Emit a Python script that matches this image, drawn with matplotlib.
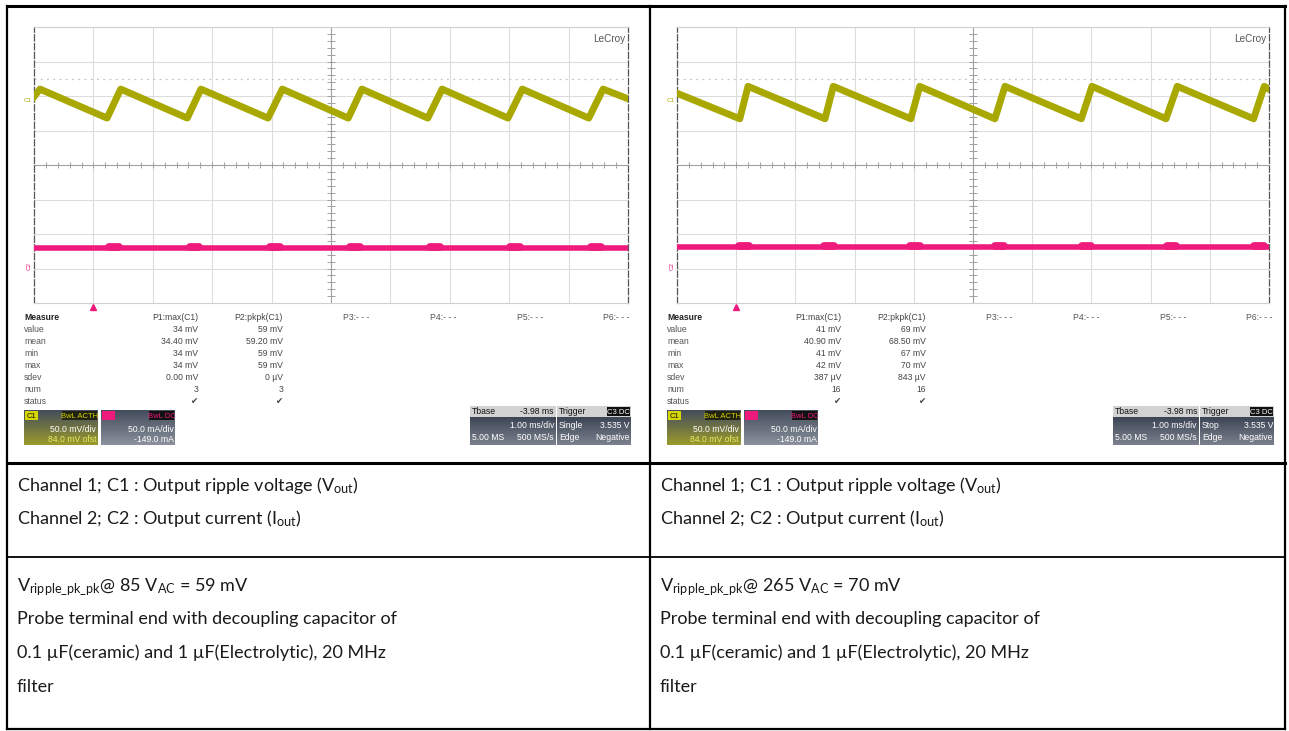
import numpy as np
import matplotlib
import matplotlib.pyplot as plt
import matplotlib.colors as mcolors
import matplotlib.transforms as mtransforms
from matplotlib import font_manager

W, H = 1289, 731

# ---- scope 1 (85 VAC) : C1 ripple vertices, time in ms (1 ms/div), screen mV (50 mV/div)
c1_time_85 = [0.00, 0.10, 1.23, 1.46, 2.58, 2.81, 3.94, 4.18, 5.29, 5.52,
              6.63, 6.87, 7.98, 8.22, 9.34, 9.58, 10.0]
c1_mv_85 = [99, 110, 68, 110, 68, 110, 68, 110, 68, 110, 68, 110, 68, 110, 68, 110, 96]
c2_level_85 = -120
c2_bumps_85 = [1.35, 2.70, 4.06, 5.40, 6.75, 8.10, 9.46]

# ---- scope 2 (265 VAC)
c1_time_265 = [0.00, 1.06, 1.20, 2.50, 2.64, 3.95, 4.10, 5.37, 5.54, 6.83,
               7.01, 8.26, 8.45, 9.74, 9.92, 10.0]
c1_mv_265 = [104, 67, 114, 67, 114, 67, 114, 67, 114, 67, 114, 67, 114, 67, 114, 110]
c2_level_265 = -119
c2_bumps_265 = [1.13, 2.57, 4.02, 5.45, 6.92, 8.35, 9.83]

trigger_level = 125
c1_ground = 94
c2_ground = -146

meas_rows = ['value', 'mean', 'min', 'max', 'sdev', 'num', 'status']
p1_85 = ['34 mV', '34.40 mV', '34 mV', '34 mV', '0.00 mV', '3', '\u2714']
p2_85 = ['59 mV', '59.20 mV', '59 mV', '59 mV', '0 \u00b5V', '3', '\u2714']
p1_265 = ['41 mV', '40.90 mV', '41 mV', '42 mV', '387 \u00b5V', '16', '\u2714']
p2_265 = ['69 mV', '68.50 mV', '67 mV', '70 mV', '843 \u00b5V', '16', '\u2714']
trig_mode_85 = 'Single'
trig_mode_265 = 'Stop'

channel_text = ['Channel 1; C1 : Output ripple voltage (V$_{\\mathrm{out}}$)',
                'Channel 2; C2 : Output current (I$_{\\mathrm{out}}$)']
ripple_85 = 'V$_{\\mathrm{ripple\\_pk\\_pk}}$@ 85 V$_{\\mathrm{AC}}$ = 59 mV'
ripple_265 = 'V$_{\\mathrm{ripple\\_pk\\_pk}}$@ 265 V$_{\\mathrm{AC}}$ = 70 mV'
probe_text = ['Probe terminal end with decoupling capacitor of',
              '0.1 \u00b5F(ceramic) and 1 \u00b5F(Electrolytic), 20 MHz',
              'filter']

names = {f.name for f in font_manager.fontManager.ttflist}
body_font = 'Liberation Sans Narrow' if 'Liberation Sans Narrow' in names else 'Lato'
ui_font = 'Liberation Sans'
plt.rcParams['mathtext.fontset'] = 'custom'
plt.rcParams['mathtext.rm'] = body_font
plt.rcParams['mathtext.it'] = body_font + ':italic'

YEL = '#a9a800'
PINK = '#ee1a7c'

fig = plt.figure(figsize=(W / 100, H / 100), dpi=100)
bg = fig.add_axes([0, 0, 1, 1])
bg.set_autoscale_on(False)
bg.set_xlim(0, W)
bg.set_ylim(H, 0)
bg.axis('off')

# table frame
bg.plot([7, 1285], [6, 6], color='k', lw=2.2)
bg.plot([7, 1285], [463, 463], color='k', lw=2.2)
bg.plot([7, 1285], [557, 557], color='k', lw=1.3)
bg.plot([7, 1285], [729, 729], color='k', lw=1.6)
for x in [7, 650, 1285]:
    bg.plot([x, x], [6, 729], color='k', lw=1.6)


def grad_box(x, y, w, h, c_top, c_bot, z=3):
    g = np.linspace(0, 1, 32)[:, None, None]
    top = np.array(mcolors.to_rgb(c_top))
    bot = np.array(mcolors.to_rgb(c_bot))
    img = top + (bot - top) * g
    bg.imshow(img, extent=(x, x + w, y + h, y), aspect='auto', zorder=z,
              interpolation='bilinear')


def label_box(x, y, w, h, fc, txt, tc):
    bg.add_patch(plt.Rectangle((x, y), w, h, facecolor=fc, edgecolor='none', zorder=4))
    bg.text(x + w / 2, y + h / 2 + 0.5, txt, color=tc, fontsize=5.5, family=ui_font,
            ha='center', va='center', zorder=5)


def draw_scope(x0, width, c1_t, c1_v, c2_lvl, c2_bumps, p1, p2, trig_mode):
    ax = fig.add_axes([x0 / W, 1 - 303 / H, width / W, 276 / H])
    ax.set_xlim(0, 10)
    ax.set_ylim(-200, 200)
    ax.set_xticks([])
    ax.set_yticks([])
    for t in range(1, 10):
        if t != 5:
            ax.axvline(t, color='#dcdcdc', lw=0.8, zorder=1)
    for v in range(-150, 200, 50):
        if v != 0:
            ax.axhline(v, color='#dcdcdc', lw=0.8, zorder=1)
    ax.axvline(5, color='#a0a0a0', lw=0.8, zorder=1)
    ax.axhline(0, color='#a0a0a0', lw=0.8, zorder=1)
    ax.vlines(np.arange(0.2, 10, 0.2), -4, 4, color='#a0a0a0', lw=0.7, zorder=1)
    ax.hlines(np.arange(-190, 200, 10), 4.94, 5.06, color='#a0a0a0', lw=0.7, zorder=1)
    ax.axhline(trigger_level, color='#c4c4c4', lw=0.9, ls=(0, (1.5, 3.5)), zorder=1)
    for s in ['top', 'bottom']:
        ax.spines[s].set_color('#d0d0d0')
    for s in ['left', 'right']:
        ax.spines[s].set_color('#555555')
        ax.spines[s].set_linestyle((0, (5, 2)))
        ax.spines[s].set_linewidth(0.9)

    ax.plot(c1_t, c1_v, color=YEL, lw=5.0, solid_joinstyle='round', zorder=4)
    ax.plot([0, 10], [c2_lvl, c2_lvl], color=PINK, lw=4.0, zorder=4)
    for b in c2_bumps:
        ax.plot([b - 0.08, b + 0.08], [c2_lvl + 1, c2_lvl + 1], color=PINK, lw=5.6,
                solid_capstyle='round', zorder=4)

    ty = mtransforms.blended_transform_factory(ax.transAxes, ax.transData)
    tx = mtransforms.blended_transform_factory(ax.transData, ax.transAxes)
    ax.text(-0.004, c1_ground, 'C1', transform=ty, fontsize=4.5, color=YEL,
            ha='right', va='center', family=ui_font, clip_on=False)
    ax.text(-0.004, c2_ground, 'C2', transform=ty, fontsize=4.5, color=PINK,
            ha='right', va='center', rotation=90, family=ui_font, clip_on=False)
    ax.plot([1.0], [-0.014], marker='^', ms=4.5, color=PINK, transform=tx, clip_on=False)
    lc = ax.text(0.995, 0.975, 'LeCroy', transform=ax.transAxes, ha='right', va='top',
                 fontsize=7.2, color='#555555', family=ui_font)

    # measurement table
    y0 = 317
    bg.text(x0 - 10, y0, 'Measure', fontsize=6.2, fontweight='bold', color='#222',
            va='center', family=ui_font)
    bg.text(x0 + 164, y0, 'P1:max(C1)', fontsize=6.2, color='#444', va='center',
            ha='right', family=ui_font)
    bg.text(x0 + 249, y0, 'P2:pkpk(C1)', fontsize=6.2, color='#444', va='center',
            ha='right', family=ui_font)
    for i, xo in enumerate([309, 396, 483, 569]):
        bg.text(x0 + xo, y0, 'P%d:- - -' % (i + 3), fontsize=6.2, color='#555',
                va='center', family=ui_font)
    for i, row in enumerate(meas_rows):
        yy = y0 + 12.1 * (i + 1)
        bg.text(x0 - 10, yy, row, fontsize=6.2, color='#555', va='center', family=ui_font)
        bg.text(x0 + 164, yy, p1[i], fontsize=6.2, color='#444', va='center',
                ha='right', family=['DejaVu Sans'] if i == 6 else ui_font)
        bg.text(x0 + 249, yy, p2[i], fontsize=6.2, color='#444', va='center',
                ha='right', family=['DejaVu Sans'] if i == 6 else ui_font)

    # channel boxes
    by, bh = 410, 35
    grad_box(x0 - 10, by, 74, bh, '#454d5c', '#9a9a2c')
    label_box(x0 - 9, by + 1, 13, 9, '#d6d600', 'C1', '#111')
    label_box(x0 + 28, by + 1, 35, 9, '#222211', 'BwL ACTH', '#d6d600')
    bg.text(x0 + 62, by + 19, '50.0 mV/div', fontsize=6.2, color='white', ha='right',
            va='center', family=ui_font, zorder=5)
    bg.text(x0 + 62, by + 29, '84.0 mV ofst', fontsize=6.2, color='#e8e860', ha='right',
            va='center', family=ui_font, zorder=5)
    grad_box(x0 + 67, by, 74, bh, '#454d5c', '#8a909c')
    label_box(x0 + 68, by + 1, 13, 9, PINK, 'C2', PINK)
    label_box(x0 + 115, by + 1, 25, 9, '#111111', 'BwL DC', PINK)
    bg.text(x0 + 140, by + 19, '50.0 mA/div', fontsize=6.2, color='white', ha='right',
            va='center', family=ui_font, zorder=5)
    bg.text(x0 + 140, by + 29, '-149.0 mA', fontsize=6.2, color='white', ha='right',
            va='center', family=ui_font, zorder=5)

    # timebase / trigger boxes
    ty0 = 406
    grad_box(x0 + 436, ty0 + 11, 86, 28, '#3e4656', '#7a808c')
    label_box(x0 + 436, ty0, 86, 11, '#d2d2d2', '', '#111')
    bg.text(x0 + 438, ty0 + 6, 'Tbase', fontsize=6.2, color='#111', va='center',
            family=ui_font, zorder=5)
    bg.text(x0 + 520, ty0 + 6, '-3.98 ms', fontsize=6.2, color='#111', va='center',
            ha='right', family=ui_font, zorder=5)
    bg.text(x0 + 520, ty0 + 20, '1.00 ms/div', fontsize=6.2, color='white', va='center',
            ha='right', family=ui_font, zorder=5)
    bg.text(x0 + 438, ty0 + 32, '5.00 MS', fontsize=6.2, color='white', va='center',
            family=ui_font, zorder=5)
    bg.text(x0 + 520, ty0 + 32, '500 MS/s', fontsize=6.2, color='white', va='center',
            ha='right', family=ui_font, zorder=5)
    grad_box(x0 + 523, ty0 + 11, 74, 28, '#3e4656', '#7a808c')
    label_box(x0 + 523, ty0, 74, 11, '#d2d2d2', '', '#111')
    bg.text(x0 + 525, ty0 + 6, 'Trigger', fontsize=6.2, color='#111', va='center',
            family=ui_font, zorder=5)
    label_box(x0 + 573, ty0 + 1, 23, 9, '#111111', 'C3 DC', 'white')
    bg.text(x0 + 525, ty0 + 20, trig_mode, fontsize=6.2, color='white', va='center',
            family=ui_font, zorder=5)
    bg.text(x0 + 596, ty0 + 20, '3.535 V', fontsize=6.2, color='white', va='center',
            ha='right', family=ui_font, zorder=5)
    bg.text(x0 + 525, ty0 + 32, 'Edge', fontsize=6.2, color='white', va='center',
            family=ui_font, zorder=5)
    bg.text(x0 + 596, ty0 + 32, 'Negative', fontsize=6.2, color='white', va='center',
            ha='right', family=ui_font, zorder=5)
    return lc


lc1 = draw_scope(34, 594, c1_time_85, c1_mv_85, c2_level_85, c2_bumps_85, p1_85, p2_85,
                 trig_mode_85)
lc2 = draw_scope(677, 592, c1_time_265, c1_mv_265, c2_level_265, c2_bumps_265, p1_265,
                 p2_265, trig_mode_265)

# lower table text
fs = 13.0
for xl, rip in [(17, ripple_85), (660, ripple_265)]:
    bg.text(xl, 491, channel_text[0], fontsize=fs, family=body_font, color='#1a1a1a',
            va='baseline')
    bg.text(xl, 524, channel_text[1], fontsize=fs, family=body_font, color='#1a1a1a',
            va='baseline')
    bg.text(xl, 591, rip, fontsize=fs, family=body_font, color='#1a1a1a', va='baseline')
    for i, line in enumerate(probe_text):
        bg.text(xl, 624 + 34 * i, line, fontsize=fs, family=body_font, color='#1a1a1a',
                va='baseline')

# underline the LeCroy logos
fig.canvas.draw()
inv = bg.transData.inverted()
for lc in [lc1, lc2]:
    bb = lc.get_window_extent()
    (xa, ya), (xb, yb) = inv.transform([(bb.x0, bb.y0), (bb.x1, bb.y1)])
    bg.plot([xa, xb], [ya + 0.5, ya + 0.5], color='#555555', lw=0.7, zorder=6)

fig.savefig('out.png', dpi=100)
